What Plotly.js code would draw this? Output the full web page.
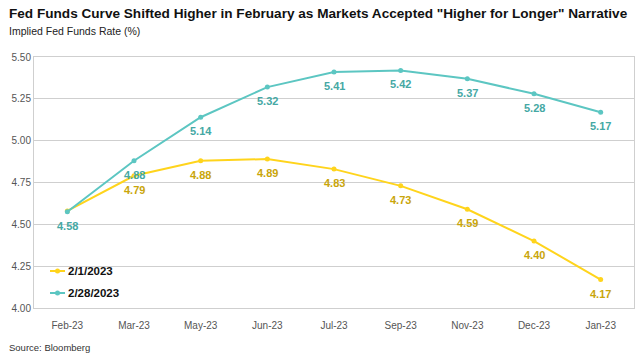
<!DOCTYPE html>
<html>
<head>
<meta charset="utf-8">
<script src="https://cdn.plot.ly/plotly-3.0.1.min.js"></script>
<style>html,body{margin:0;padding:0;background:#fff;}#chart{width:640px;height:363px;}</style>
</head>
<body>
<div id="chart"></div>
<script>
const categories = ["Feb-23","Mar-23","May-23","Jun-23","Jul-23","Sep-23","Nov-23","Dec-23","Jan-23"];
const seriesFeb1 = [4.58, 4.79, 4.88, 4.89, 4.83, 4.73, 4.59, 4.40, 4.17];
const seriesFeb28 = [4.575, 4.88, 5.14, 5.32, 5.41, 5.42, 5.37, 5.28, 5.17];
const labelsFeb1 = ["", "4.79", "4.88", "4.89", "4.83", "4.73", "4.59", "4.40", "4.17"];
const labelsFeb28 = ["4.58", "4.88", "5.14", "5.32", "5.41", "5.42", "5.37", "5.28", "5.17"];
const seriesNames = ["2/1/2023", "2/28/2023"];
const yTicks = [4.00, 4.25, 4.50, 4.75, 5.00, 5.25, 5.50];

const FONT = "Liberation Sans, Arial, sans-serif";
const yellow = "#FFD41C", yellowText = "#C9A50A";
const teal = "#5CC6C2", tealText = "#45A8A4";

const traces = [
  {x: categories, y: seriesFeb1, name: seriesNames[0], type: "scatter", mode: "lines+markers",
   line: {color: yellow, width: 2}, marker: {color: yellow, size: 5}, cliponaxis: false},
  {x: categories, y: seriesFeb28, name: seriesNames[1], type: "scatter", mode: "lines+markers",
   line: {color: teal, width: 2}, marker: {color: teal, size: 5}, cliponaxis: false}
];

function labelAnns(vals, labels, color) {
  return categories.map((c, i) => ({
    x: c, y: vals[i], xref: "x", yref: "y", text: "<b>" + labels[i] + "</b>", showarrow: false,
    yshift: -14, font: {family: FONT, size: 11, color: color}
  })).filter(a => a.text !== "<b></b>");
}

const shapes = [];
const legendAnns = [];
[[seriesNames[0], yellow, 0.1474], [seriesNames[1], teal, 0.0598]].forEach(([nm, col, py]) => {
  shapes.push({type: "line", xref: "paper", yref: "paper", x0: 0.0267, x1: 0.0517, y0: py, y1: py,
               line: {color: col, width: 2}});
  shapes.push({type: "circle", xref: "paper", yref: "paper", x0: 0.0392 - 0.0042, x1: 0.0392 + 0.0042,
               y0: py - 0.01, y1: py + 0.01, fillcolor: col, line: {width: 0}});
  legendAnns.push({text: "<b>" + nm + "</b>", xref: "paper", yref: "paper", x: 0.053, y: py,
                   xanchor: "left", yanchor: "middle", showarrow: false,
                   font: {family: FONT, size: 11.5, color: "#111"}});
});

const layout = {
  width: 640, height: 363,
  margin: {l: 34, r: 6, t: 57, b: 55},
  paper_bgcolor: "#fff", plot_bgcolor: "#fff",
  font: {family: FONT, color: "#555"},
  showlegend: false,
  xaxis: {type: "category", range: [-0.5, 8.5], showgrid: false, zeroline: false,
          showline: true, linecolor: "#cfcfcf", linewidth: 1, mirror: true,
          ticks: "", ticklabelstandoff: 8, tickfont: {family: FONT, size: 10, color: "#555"}, fixedrange: true},
  yaxis: {range: [4.0, 5.5], tickvals: yTicks, tickformat: ".2f", showgrid: true, gridcolor: "#cfcfcf",
          gridwidth: 1, zeroline: false, showline: true, linecolor: "#cfcfcf", mirror: true,
          ticks: "", tickfont: {family: FONT, size: 10, color: "#555"}, fixedrange: true},
  shapes: shapes,
  annotations: [
    {text: "<b>Fed Funds Curve Shifted Higher in February as Markets Accepted \"Higher for Longer\" Narrative</b>",
     xref: "paper", yref: "paper", x: -0.045, y: 1.0, xanchor: "left", yanchor: "bottom", yshift: 34,
     showarrow: false, font: {family: FONT, size: 13.6, color: "#111"}},
    {text: "Implied Fed Funds Rate (%)", xref: "paper", yref: "paper", x: -0.045, y: 1.0,
     xanchor: "left", yanchor: "bottom", yshift: 18, showarrow: false, font: {family: FONT, size: 10.5, color: "#222"}},
    {text: "Source: Bloomberg", xref: "paper", yref: "paper", x: -0.045, y: 0, xanchor: "left", yanchor: "top",
     yshift: -32, showarrow: false, font: {family: FONT, size: 9.5, color: "#333"}}
  ].concat(labelAnns(seriesFeb1, labelsFeb1, yellowText), labelAnns(seriesFeb28, labelsFeb28, tealText), legendAnns)
};

Plotly.newPlot("chart", traces, layout, {staticPlot: true, displayModeBar: false});
</script>
</body>
</html>
